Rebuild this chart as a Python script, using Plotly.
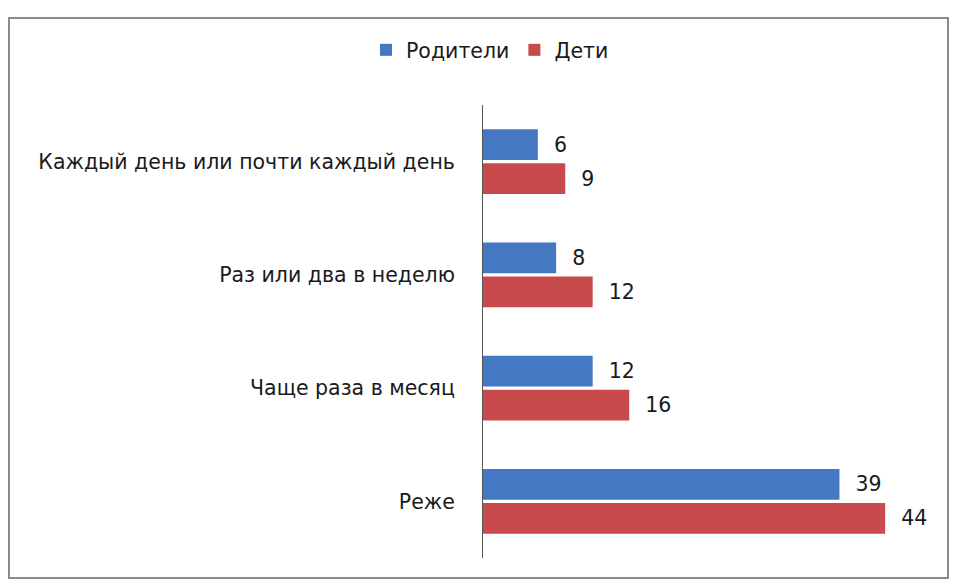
import plotly.graph_objects as go

categories = ["Каждый день или почти каждый день", "Раз или два в неделю", "Чаще раза в месяц", "Реже"]
parents = [6, 8, 12, 39]
children = [9, 12, 16, 44]
series_names = ["Родители", "Дети"]

FONT = "DejaVu Sans"
FS = 20.5
OFF = 8  # browser body margin
W, H = 957 - OFF, 581 - OFF
L, R, T, B = 483 - OFF, 17, 105 - OFF, 23

fig = go.Figure()
fig.add_trace(go.Bar(
    y=categories, x=parents, name=series_names[0], orientation="h",
    marker=dict(color="#4578c2", line=dict(width=0)),
    text=parents, texttemplate="  %{x}", textposition="outside",
    textfont=dict(size=FS, color="#1a1a1a", family=FONT), cliponaxis=False,
))
fig.add_trace(go.Bar(
    y=categories, x=children, name=series_names[1], orientation="h",
    marker=dict(color="#c94a4c", line=dict(width=0)),
    text=children, texttemplate="  %{x}", textposition="outside",
    textfont=dict(size=FS, color="#1a1a1a", family=FONT), cliponaxis=False,
))

pw = W - L - R
ph = H - T - B
def px2x(p):
    return (p - OFF - L) / pw
def py2y(p):
    return 1 - (p - OFF - T) / ph

fig.add_shape(type="rect", xref="paper", yref="paper",
              x0=px2x(9), x1=px2x(948), y0=py2y(578), y1=py2y(18),
              line=dict(color="#8a8a8a", width=2), fillcolor="rgba(0,0,0,0)", layer="below")

fig.update_layout(
    width=W, height=H,
    margin=dict(l=L, r=R, t=T, b=B, autoexpand=False),
    paper_bgcolor="white", plot_bgcolor="white",
    barmode="group", bargap=0.40, bargroupgap=0.10,
    font=dict(family=FONT, size=FS, color="#1a1a1a"),
    showlegend=True,
    legend=dict(orientation="h", x=px2x(490), xanchor="center", y=py2y(50), yanchor="middle",
                font=dict(size=FS, family=FONT), itemwidth=30, traceorder="normal"),
    xaxis=dict(range=[0, 50], visible=False, fixedrange=True),
    yaxis=dict(autorange="reversed", showline=True, linecolor="#555555", linewidth=1,
               showgrid=False, ticks="", ticklabelstandoff=23,
               tickfont=dict(size=FS, family=FONT, color="#1a1a1a")),
)

fig.write_html("out.html")
